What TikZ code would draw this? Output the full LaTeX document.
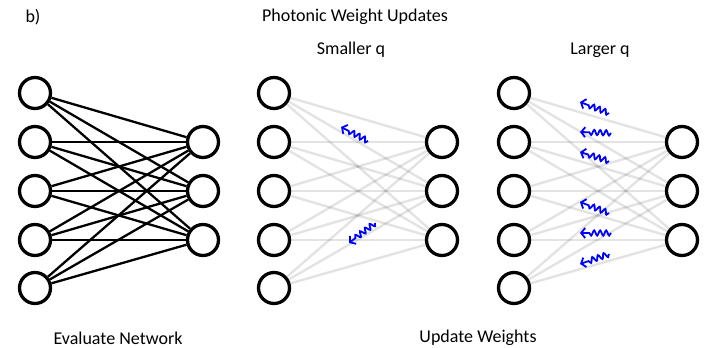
\documentclass[tikz,border=0pt]{standalone}
\usepackage{fontspec}
\setmainfont{Carlito}
\usetikzlibrary{arrows.meta,backgrounds,decorations.pathmorphing}

\begin{document}
\begin{tikzpicture}[x=1pt,y=-1pt,
  font=\fontsize{18}{21}\selectfont,
  unit/.style={circle,draw=black,line width=3.3pt,minimum size=31pt,inner sep=0pt,fill=white},
  wt/.style={line width=2.3pt,black},
  wtfade/.style={line width=2.4pt,draw=black,draw opacity=0.11},
  photon/.style={blue,line width=1.8pt,-{Straight Barb[length=4pt,width=10pt]},
    decorate,decoration={snake,amplitude=2.6pt,segment length=6pt,post length=8pt}}]
  \useasboundingbox (0,0) rectangle (707,348);

  % three copies of the 5-3 network
  \foreach \net/\xa/\xb in {ev/35/203, sm/274/442, lg/514/682}{
    \foreach \i/\y in {1/93,2/142,3/191,4/240,5/288}
      \node[unit] (\net-in\i) at (\xa,\y) {};
    \foreach \j/\y in {1/142,2/191,3/240}
      \node[unit] (\net-out\j) at (\xb,\y) {};
  }

  \begin{scope}[on background layer]
    \foreach \i in {1,...,5}
      \foreach \j in {1,2,3}{
        \draw[wt] (ev-in\i) -- (ev-out\j);
        \draw[wtfade] (sm-in\i) -- (sm-out\j);
        \draw[wtfade] (lg-in\i) -- (lg-out\j);
      }
  \end{scope}

  % photons: tail then head
  \foreach \n/\tx/\ty/\hx/\hy in {s1/368/141/341/127, s2/375/223/349/243,
      l1/609/113/580/102, l2/611/133/580/132, l3/609/161/580/152,
      l4/609/213/580/202, l5/611/233/580/233, l6/609/254/580/264}{
    \coordinate (\n-t) at (\tx,\ty);
    \coordinate (\n-h) at (\hx,\hy);
    \draw[photon] (\n-t) -- (\n-h);
  }

  \node[anchor=west] (tag) at (22,17) {b)};
  \node (title) at (355,17) {Photonic Weight Updates};
  \node (smq) at (351,50) {Smaller q};
  \node (lgq) at (600,50) {Larger q};
  \node (evalnet) at (118,338) {Evaluate Network};
  \node (upd) at (478,338) {Update Weights};
\end{tikzpicture}
\end{document}
